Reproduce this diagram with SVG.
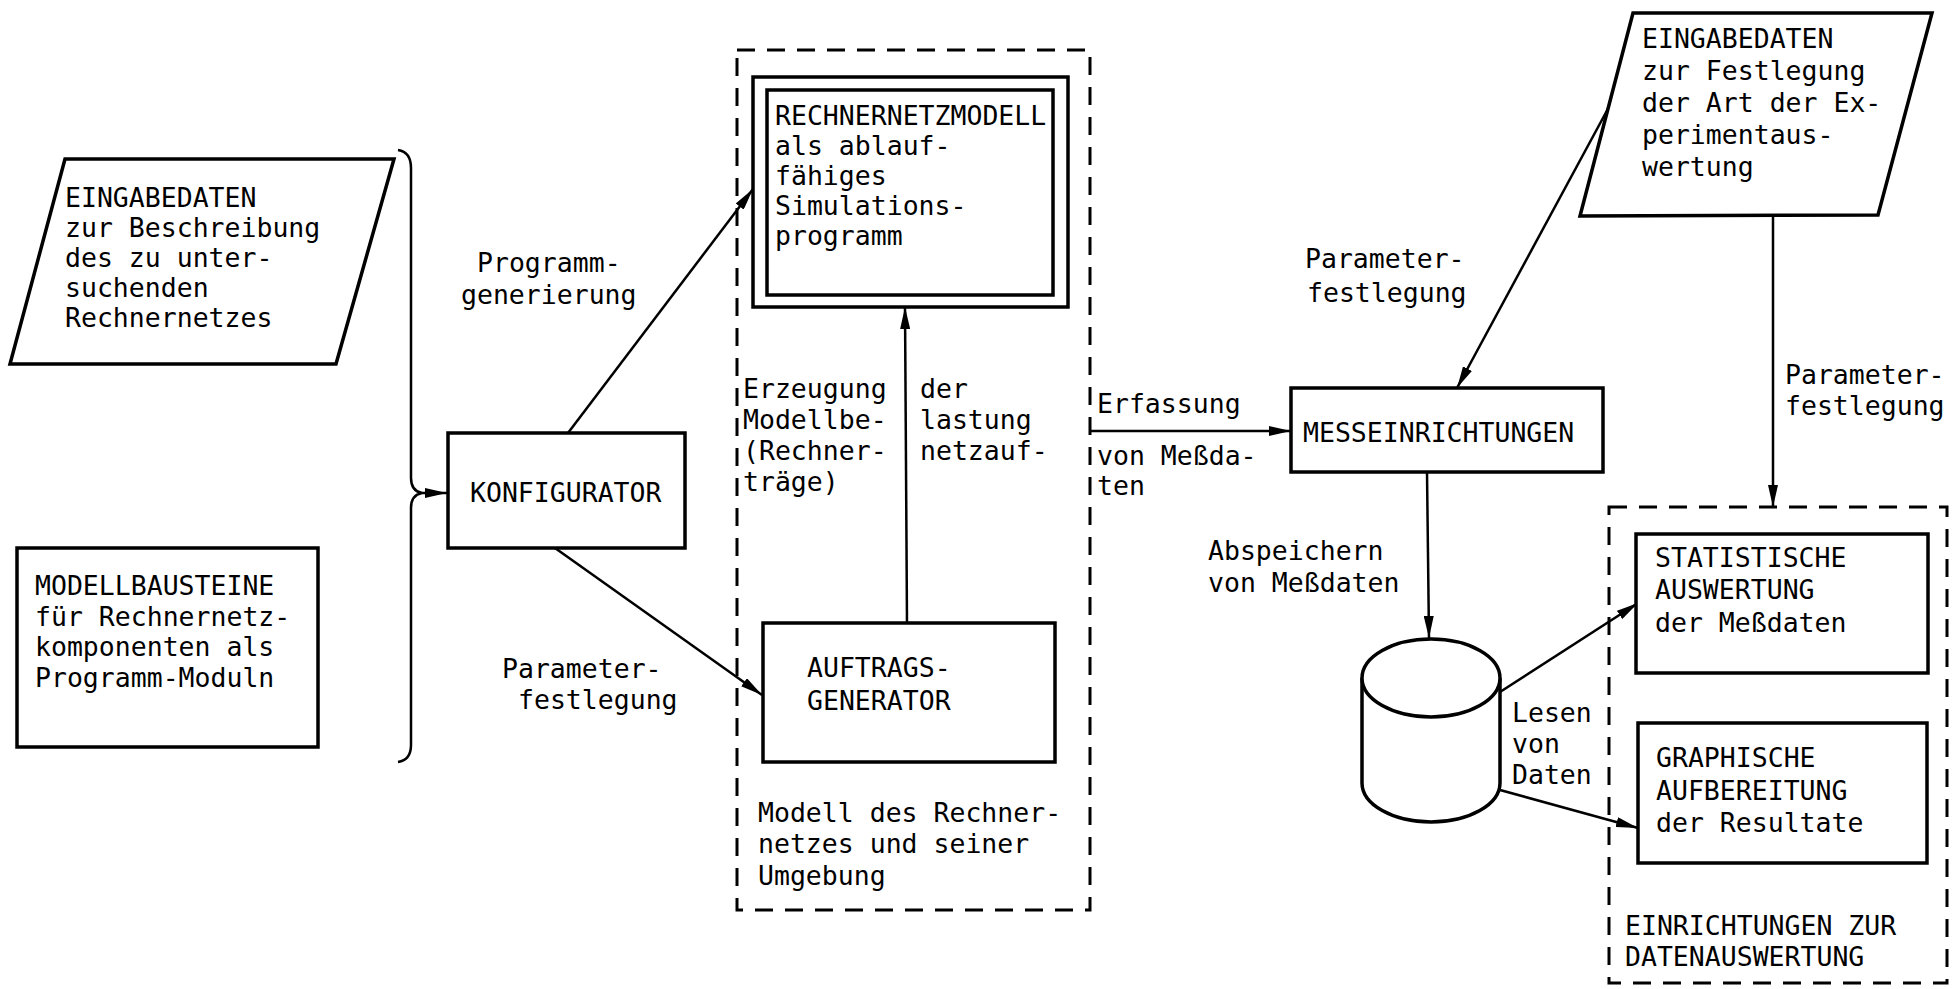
<svg xmlns="http://www.w3.org/2000/svg" width="1953" height="989" viewBox="0 0 1953 989">
  <style>
    .t { font-family: "DejaVu Sans Mono", "Liberation Mono", monospace; font-size: 26.5px; fill: #000; }
    .box { fill: #fff; stroke: #000; stroke-width: 3.5; }
    .dash { fill: none; stroke: #000; stroke-width: 3; stroke-dasharray: 18 12; }
    .conn { fill: none; stroke: #000; stroke-width: 2.5; }
  </style>
  <defs>
    <marker id="arrow" viewBox="0 0 22 10" refX="22" refY="5" markerWidth="22" markerHeight="10" markerUnits="userSpaceOnUse" orient="auto">
      <path d="M0,0 L22,5 L0,10 z" fill="#000"/>
    </marker>
  </defs>
  <rect width="1953" height="989" fill="#fff"/>

  <!-- grouping frames -->
  <g id="modell-umgebung">
    <rect class="dash" x="737" y="50" width="353" height="860"/>
    <text class="t">
      <tspan x="758" y="822">Modell des Rechner-</tspan>
      <tspan x="758" y="853">netzes und seiner</tspan>
      <tspan x="758" y="885">Umgebung</tspan>
    </text>
  </g>
  <g id="datenauswertung">
    <rect class="dash" x="1609" y="507" width="338" height="476"/>
    <text class="t">
      <tspan x="1625" y="935">EINRICHTUNGEN ZUR</tspan>
      <tspan x="1625" y="966">DATENAUSWERTUNG</tspan>
    </text>
  </g>

  <!-- connectors -->
  <g id="connectors">
    <path class="conn" d="M398,150 Q411,152 411,168 L411,478 Q411,491 422,493 Q411,495 411,508 L411,745 Q411,760 398,762"/>
    <path class="conn" d="M422,493 L447,493" marker-end="url(#arrow)"/>
    <path class="conn" d="M568,433 L753,189" marker-end="url(#arrow)"/>
    <path class="conn" d="M555,548 L762,695" marker-end="url(#arrow)"/>
    <path class="conn" d="M907,623 L905,307" marker-end="url(#arrow)"/>
    <path class="conn" d="M1090,431 L1291,431" marker-end="url(#arrow)"/>
    <path class="conn" d="M1610,105 L1457,388" marker-end="url(#arrow)"/>
    <path class="conn" d="M1427,472 L1429,638" marker-end="url(#arrow)"/>
    <path class="conn" d="M1773,215 L1773,507" marker-end="url(#arrow)"/>
    <path class="conn" d="M1500,692 L1638,603" marker-end="url(#arrow)"/>
    <path class="conn" d="M1500,790 L1638,828" marker-end="url(#arrow)"/>

    <text class="t">
      <tspan x="477" y="272">Programm-</tspan>
      <tspan x="461" y="304">generierung</tspan>
    </text>
    <text class="t">
      <tspan x="502" y="678">Parameter-</tspan>
      <tspan x="518" y="709">festlegung</tspan>
    </text>
    <text class="t">
      <tspan x="743" y="398">Erzeugung</tspan>
      <tspan x="743" y="429">Modellbe-</tspan>
      <tspan x="743" y="460">(Rechner-</tspan>
      <tspan x="743" y="491">träge)</tspan>
    </text>
    <text class="t">
      <tspan x="920" y="398">der</tspan>
      <tspan x="920" y="429">lastung</tspan>
      <tspan x="920" y="460">netzauf-</tspan>
    </text>
    <text class="t">
      <tspan x="1097" y="413">Erfassung</tspan>
      <tspan x="1097" y="465">von Meßda-</tspan>
      <tspan x="1097" y="495">ten</tspan>
    </text>
    <text class="t">
      <tspan x="1305" y="268">Parameter-</tspan>
      <tspan x="1307" y="302">festlegung</tspan>
    </text>
    <text class="t">
      <tspan x="1208" y="560">Abspeichern</tspan>
      <tspan x="1208" y="592">von Meßdaten</tspan>
    </text>
    <text class="t">
      <tspan x="1512" y="722">Lesen</tspan>
      <tspan x="1512" y="753">von</tspan>
      <tspan x="1512" y="784">Daten</tspan>
    </text>
    <text class="t">
      <tspan x="1785" y="384">Parameter-</tspan>
      <tspan x="1785" y="415">festlegung</tspan>
    </text>
  </g>

  <!-- nodes -->
  <g id="eingabe-netz">
    <polygon class="box" points="65,159 394,159 336,364 10,364"/>
    <text class="t">
      <tspan x="65" y="207">EINGABEDATEN</tspan>
      <tspan x="65" y="237">zur Beschreibung</tspan>
      <tspan x="65" y="267">des zu unter-</tspan>
      <tspan x="65" y="297">suchenden</tspan>
      <tspan x="65" y="327">Rechnernetzes</tspan>
    </text>
  </g>

  <g id="modellbausteine">
    <rect class="box" x="17" y="548" width="301" height="199"/>
    <text class="t">
      <tspan x="35" y="595">MODELLBAUSTEINE</tspan>
      <tspan x="35" y="626">für Rechnernetz-</tspan>
      <tspan x="35" y="656">komponenten als</tspan>
      <tspan x="35" y="687">Programm-Moduln</tspan>
    </text>
  </g>

  <g id="konfigurator">
    <rect class="box" x="448" y="433" width="237" height="115"/>
    <text class="t" x="470" y="502">KONFIGURATOR</text>
  </g>

  <g id="rechnernetzmodell">
    <rect class="box" x="753" y="77" width="315" height="230"/>
    <rect class="box" x="767" y="90" width="286" height="205"/>
    <text class="t">
      <tspan x="775" y="125">RECHNERNETZMODELL</tspan>
      <tspan x="775" y="155">als ablauf-</tspan>
      <tspan x="775" y="185">fähiges</tspan>
      <tspan x="775" y="215">Simulations-</tspan>
      <tspan x="775" y="245">programm</tspan>
    </text>
  </g>

  <g id="auftragsgenerator">
    <rect class="box" x="763" y="623" width="292" height="139"/>
    <text class="t">
      <tspan x="807" y="677">AUFTRAGS-</tspan>
      <tspan x="807" y="710">GENERATOR</tspan>
    </text>
  </g>

  <g id="messeinrichtungen">
    <rect class="box" x="1291" y="388" width="312" height="84"/>
    <text class="t" x="1303" y="442">MESSEINRICHTUNGEN</text>
  </g>

  <g id="eingabe-auswertung">
    <polygon class="box" points="1633,13 1932,13 1878,215 1580,216"/>
    <text class="t">
      <tspan x="1642" y="48">EINGABEDATEN</tspan>
      <tspan x="1642" y="80">zur Festlegung</tspan>
      <tspan x="1642" y="112">der Art der Ex-</tspan>
      <tspan x="1642" y="144">perimentaus-</tspan>
      <tspan x="1642" y="176">wertung</tspan>
    </text>
  </g>

  <g id="datenspeicher">
    <path class="box" d="M1362,678 L1362,783 A69,39 0 0 0 1500,783 L1500,678 A69,39 0 0 0 1362,678 Z"/>
    <path class="box" d="M1362,678 A69,39 0 0 0 1500,678"/>
  </g>

  <g id="statistische-auswertung">
    <rect class="box" x="1636" y="534" width="292" height="139"/>
    <text class="t">
      <tspan x="1655" y="567">STATISTISCHE</tspan>
      <tspan x="1655" y="599">AUSWERTUNG</tspan>
      <tspan x="1655" y="632">der Meßdaten</tspan>
    </text>
  </g>

  <g id="graphische-aufbereitung">
    <rect class="box" x="1638" y="723" width="289" height="140"/>
    <text class="t">
      <tspan x="1656" y="767">GRAPHISCHE</tspan>
      <tspan x="1656" y="800">AUFBEREITUNG</tspan>
      <tspan x="1656" y="832">der Resultate</tspan>
    </text>
  </g>
</svg>
